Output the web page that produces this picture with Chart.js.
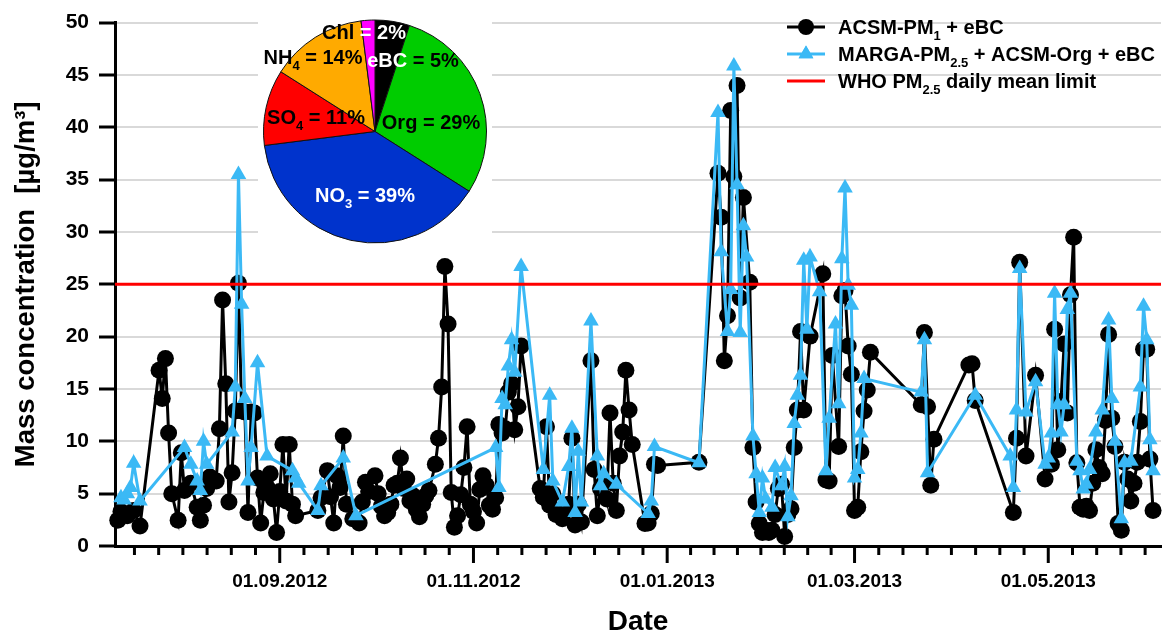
<!DOCTYPE html>
<html><head><meta charset="utf-8">
<script src="https://cdn.jsdelivr.net/npm/chart.js@4.4.1/dist/chart.umd.min.js"></script>
<style>
html,body{margin:0;padding:0;background:#fff;}
#wrap{position:relative;width:1170px;height:641px;overflow:hidden;background:#fff;}
#main{position:absolute;left:0;top:0;}
#pie{position:absolute;left:258px;top:18px;background:#fff;}
</style></head><body>
<div id="wrap"><canvas id="main" width="1170" height="641"></canvas><canvas id="pie" width="234" height="230"></canvas></div>
<script>
// ---------------- DATA ----------------
const acsmDates = [
 '2012-07-12','2012-07-13','2012-07-15','2012-07-17','2012-07-19','2012-07-25','2012-07-26','2012-07-27','2012-07-28','2012-07-29','2012-07-31',
 '2012-08-01','2012-08-02','2012-08-04','2012-08-06','2012-08-07','2012-08-08','2012-08-09','2012-08-10','2012-08-12','2012-08-13','2012-08-14','2012-08-15','2012-08-16','2012-08-17','2012-08-18','2012-08-19',
 '2012-08-20','2012-08-21','2012-08-22','2012-08-23','2012-08-24','2012-08-25','2012-08-26','2012-08-27','2012-08-28','2012-08-29','2012-08-30','2012-08-31',
 '2012-09-01','2012-09-02','2012-09-03','2012-09-04','2012-09-05','2012-09-06','2012-09-13','2012-09-14','2012-09-16','2012-09-17','2012-09-18','2012-09-19','2012-09-20','2012-09-21','2012-09-22','2012-09-24','2012-09-26','2012-09-27','2012-09-28','2012-09-29',
 '2012-10-01','2012-10-02','2012-10-03','2012-10-04','2012-10-05','2012-10-06','2012-10-07','2012-10-08','2012-10-09','2012-10-10','2012-10-11','2012-10-12','2012-10-13','2012-10-14','2012-10-15','2012-10-16',
 '2012-10-17','2012-10-18','2012-10-20','2012-10-21','2012-10-22','2012-10-23','2012-10-24','2012-10-25','2012-10-26','2012-10-27','2012-10-28','2012-10-29','2012-10-30','2012-10-31',
 '2012-11-01','2012-11-02','2012-11-03','2012-11-04','2012-11-05','2012-11-06','2012-11-07','2012-11-08','2012-11-09','2012-11-10','2012-11-11','2012-11-12','2012-11-13','2012-11-14','2012-11-15','2012-11-16',
 '2012-11-22','2012-11-23','2012-11-24','2012-11-25','2012-11-26','2012-11-27','2012-11-29','2012-11-30',
 '2012-12-01','2012-12-02','2012-12-03','2012-12-04','2012-12-05','2012-12-08','2012-12-09','2012-12-10','2012-12-11','2012-12-12','2012-12-13','2012-12-14','2012-12-15','2012-12-16',
 '2012-12-17','2012-12-18','2012-12-19','2012-12-20','2012-12-21','2012-12-25','2012-12-26','2012-12-27','2012-12-28','2012-12-29',
 '2013-01-11','2013-01-17','2013-01-18','2013-01-19','2013-01-20','2013-01-21','2013-01-22','2013-01-23','2013-01-24','2013-01-25','2013-01-27','2013-01-28','2013-01-29','2013-01-30','2013-01-31',
 '2013-02-01','2013-02-02','2013-02-03','2013-02-04','2013-02-05','2013-02-06','2013-02-07','2013-02-08','2013-02-09','2013-02-10','2013-02-11','2013-02-12','2013-02-13','2013-02-15',
 '2013-02-19','2013-02-20','2013-02-21','2013-02-22','2013-02-24','2013-02-25','2013-02-26','2013-02-27','2013-02-28',
 '2013-03-01','2013-03-02','2013-03-03','2013-03-04','2013-03-05','2013-03-06','2013-03-22','2013-03-23','2013-03-24','2013-03-25','2013-03-26',
 '2013-04-06','2013-04-07','2013-04-08','2013-04-20','2013-04-21','2013-04-22','2013-04-24','2013-04-27','2013-04-30',
 '2013-05-02','2013-05-03','2013-05-04','2013-05-05','2013-05-06','2013-05-07','2013-05-08','2013-05-09','2013-05-10','2013-05-11','2013-05-12','2013-05-13','2013-05-14','2013-05-15','2013-05-16',
 '2013-05-17','2013-05-18','2013-05-19','2013-05-20','2013-05-21','2013-05-22','2013-05-23','2013-05-24','2013-05-25','2013-05-26','2013-05-27','2013-05-28','2013-05-29','2013-05-30','2013-05-31',
 '2013-06-01','2013-06-02','2013-06-03'
];
const acsmValues = [
 2.45,3.3,2.9,3.4,1.9,16.8,14.1,17.9,10.8,5.0,2.45,
 8.9,5.3,6.0,3.7,2.45,3.9,5.5,6.6,6.2,11.2,23.5,15.5,4.2,7.0,12.9,25.1,
 12.9,12.8,3.2,12.8,12.7,6.5,2.2,5.1,5.6,6.9,4.5,1.3,
 5.2,9.7,4.3,9.7,4.0,2.9,3.4,4.6,7.2,4.7,2.2,6.7,5.6,10.5,4.0,2.6,2.2,4.2,6.1,5.2,
 6.7,5.0,3.8,2.9,3.2,4.0,5.8,6.0,8.4,5.5,6.4,4.3,4.8,3.5,2.8,4.0,
 4.8,5.3,7.8,10.3,15.2,26.7,21.2,5.1,1.8,2.9,4.9,7.5,11.4,4.0,
 3.3,2.2,5.4,6.7,5.8,3.9,3.5,4.6,11.6,10.8,11.2,14.7,15.5,11.1,13.3,19.1,
 5.5,4.65,11.4,3.9,5.0,3.0,2.6,3.4,
 4.0,10.3,2.0,4.0,2.3,17.7,7.3,2.9,5.5,6.0,4.5,12.7,6.0,3.4,
 8.6,10.9,16.8,13.0,9.7,2.15,2.2,3.1,7.8,7.7,
 8.0,35.6,31.4,17.7,22.0,41.6,35.3,44.0,23.7,33.3,25.2,9.4,4.2,2.15,1.3,
 1.5,1.3,1.5,3.0,5.5,5.9,0.9,3.0,3.55,9.4,13.0,20.5,13.0,20.05,
 26.0,6.3,6.2,18.2,9.5,23.9,24.4,19.1,16.4,
 3.4,3.7,9.0,12.9,14.9,18.5,13.5,20.4,13.3,5.8,10.2,
 17.3,17.4,13.9,3.2,10.3,27.1,8.6,16.3,6.4,
 7.8,20.7,9.2,13.8,19.3,12.7,24.0,29.5,7.95,3.7,3.5,3.8,3.4,6.0,9.2,
 7.5,6.9,12.0,20.2,12.2,9.5,2.15,1.5,8.0,6.4,4.3,6.0,8.0,11.9,18.8,
 18.8,8.3,3.4
];
const margaDates = [
 '2012-07-13','2012-07-14','2012-07-15','2012-07-16','2012-07-17','2012-07-19',
 '2012-08-02','2012-08-04','2012-08-06','2012-08-07','2012-08-08','2012-08-09','2012-08-17','2012-08-18','2012-08-19','2012-08-20','2012-08-21','2012-08-22','2012-08-23','2012-08-25','2012-08-28',
 '2012-09-05','2012-09-06','2012-09-07','2012-09-13','2012-09-14','2012-09-21','2012-09-25',
 '2012-11-08','2012-11-09','2012-11-10','2012-11-11','2012-11-12','2012-11-13','2012-11-14','2012-11-16','2012-11-23','2012-11-25','2012-11-26','2012-11-29',
 '2012-12-01','2012-12-02','2012-12-03','2012-12-04','2012-12-05','2012-12-08','2012-12-10','2012-12-11','2012-12-12','2012-12-16','2012-12-26','2012-12-27','2012-12-28',
 '2013-01-11','2013-01-17','2013-01-18','2013-01-20','2013-01-21','2013-01-22','2013-01-23','2013-01-24','2013-01-25','2013-01-26','2013-01-28','2013-01-29','2013-01-30','2013-01-31',
 '2013-02-01','2013-02-03','2013-02-04','2013-02-06','2013-02-07','2013-02-08','2013-02-09','2013-02-10','2013-02-11','2013-02-12','2013-02-13','2013-02-14','2013-02-15','2013-02-18',
 '2013-02-20','2013-02-21','2013-02-23','2013-02-24','2013-02-25','2013-02-26','2013-02-27','2013-02-28','2013-03-01','2013-03-02','2013-03-03','2013-03-04',
 '2013-03-22','2013-03-23','2013-03-24','2013-04-08','2013-04-19','2013-04-20','2013-04-21','2013-04-22','2013-04-24','2013-04-27','2013-04-30',
 '2013-05-01','2013-05-02','2013-05-03','2013-05-04','2013-05-05','2013-05-06','2013-05-07','2013-05-08','2013-05-10','2013-05-11','2013-05-12','2013-05-13','2013-05-14','2013-05-16',
 '2013-05-18','2013-05-20','2013-05-21','2013-05-22','2013-05-24','2013-05-25','2013-05-27','2013-05-30','2013-05-31','2013-06-01','2013-06-02','2013-06-03'
];
const margaValues = [
 4.6,4.4,5.0,5.6,7.9,4.3,
 9.4,7.8,6.2,5.3,10.0,7.8,10.9,15.2,35.5,23.1,14.1,6.2,9.4,17.5,8.6,
 7.2,6.5,6.0,3.4,5.75,8.4,2.9,
 9.4,5.6,14.1,13.5,17.2,19.7,16.6,26.7,7.3,14.4,6.2,4.2,
 7.6,11.25,3.2,9.05,4.2,21.5,8.6,5.75,6.9,5.9,3.1,4.3,9.5,
 7.95,41.4,28.1,20.5,24.5,45.85,34.5,20.4,30.6,27.6,10.5,6.9,3.2,6.5,
 4.5,3.7,7.5,5.75,7.6,2.8,4.8,11.7,14.4,16.3,27.3,20.7,27.6,24.3,
 7.2,12.2,21.2,13.6,27.45,34.2,24.9,23.0,6.5,7.3,10.8,16.0,
 14.7,19.7,7.0,14.4,8.6,5.6,13.0,26.5,12.8,15.7,7.8,
 8.4,10.8,24.15,13.5,10.9,13.5,22.6,24.15,8.1,7.2,5.45,5.9,7.3,10.9,
 13.0,21.6,14.1,10.0,2.6,7.95,8.1,15.2,22.9,19.7,10.15,7.2
];
const whoLimit = 25;
const xTickDates = ['2012-09-01','2012-11-01','2013-01-01','2013-03-01','2013-05-01'];
const xTickLabels = ['01.09.2012','01.11.2012','01.01.2013','01.03.2013','01.05.2013'];
const axisStart = '2012-07-11T03:00:00Z';
const axisEnd = '2013-06-05T12:00:00Z';
const pieLabels = ['eBC','Org','NO3','SO4','NH4','Chl'];
const pieValues = [5,29,39,11,14,2];

// ---------------- STYLE / LAYOUT ----------------
const pieColors = ['#000000','#00cc00','#0033cc','#ff0000','#ffaa00','#ff00ff'];
const FONT = '"Liberation Sans", Arial, Helvetica, sans-serif';
const BLUE = '#3bb9f5';
const xMin = Date.parse(axisStart), xMax = Date.parse(axisEnd);
const majorT = xTickDates.map(d => Date.parse(d));

function allXTicks(){
  const out = [], n = 8;
  const s0 = (majorT[1]-majorT[0])/n;
  for (let v = majorT[0]-s0; v >= xMin; v -= s0) out.unshift({v, major:false});
  for (let i=0;i<majorT.length-1;i++){
    const st=(majorT[i+1]-majorT[i])/n;
    for (let k=0;k<n;k++) out.push({v:majorT[i]+k*st, major:k===0});
  }
  const L = majorT.length-1;
  out.push({v:majorT[L], major:true});
  const s1 = (majorT[L]-majorT[L-1])/n;
  for (let v = majorT[L]+s1; v <= xMax; v += s1) out.push({v, major:false});
  return out;
}

function drawRich(ctx, parts, x, y, size, align){
  let w = 0;
  const fontOf = p => `bold ${p.sub ? Math.round(size*0.66) : size}px ${FONT}`;
  for (const p of parts){ ctx.font = fontOf(p); w += ctx.measureText(p.t).width; }
  if (align === 'center') x -= w/2;
  ctx.textAlign = 'left'; ctx.textBaseline = 'alphabetic';
  for (const p of parts){
    ctx.font = fontOf(p);
    ctx.fillStyle = p.c || '#000';
    ctx.fillText(p.t, x, y + (p.sub ? size*0.28 : 0));
    x += ctx.measureText(p.t).width;
  }
}

const xTickPlugin = {
  id:'xTickMarks',
  afterDraw(chart){
    const {ctx, scales:{x}, chartArea} = chart;
    ctx.save(); ctx.strokeStyle='#000'; ctx.lineWidth=3;
    for (const t of allXTicks()){
      const px = x.getPixelForValue(t.v);
      ctx.beginPath(); ctx.moveTo(px, chartArea.bottom); ctx.lineTo(px, chartArea.bottom + (t.major ? 17 : 9)); ctx.stroke();
    }
    ctx.restore();
  }
};

const legendPlugin = {
  id:'customLegend',
  afterDraw(chart){
    const ctx = chart.ctx;
    const rows = [
      {y:27, mk:'circle', col:'#000', parts:[{t:'ACSM-PM'},{t:'1',sub:1},{t:' + eBC'}]},
      {y:54, mk:'triangle', col:BLUE, parts:[{t:'MARGA-PM'},{t:'2.5',sub:1},{t:' + ACSM-Org + eBC'}]},
      {y:81, mk:'none', col:'#ff0000', parts:[{t:'WHO PM'},{t:'2.5',sub:1},{t:' daily mean limit'}]}
    ];
    ctx.save();
    for (const r of rows){
      ctx.strokeStyle = r.col; ctx.lineWidth = 3;
      ctx.beginPath(); ctx.moveTo(787, r.y); ctx.lineTo(825, r.y); ctx.stroke();
      ctx.fillStyle = r.col;
      if (r.mk === 'circle'){ ctx.beginPath(); ctx.arc(806, r.y, 8, 0, Math.PI*2); ctx.fill(); }
      if (r.mk === 'triangle'){ Chart.helpers.drawPoint(ctx, {pointStyle:'triangle', radius:8.5, borderWidth:0}, 806, r.y); ctx.fill(); }
      drawRich(ctx, r.parts, 838, r.y + 7, 20, 'left');
    }
    ctx.restore();
  }
};

// main chart
new Chart(document.getElementById('main'), {
  type:'line',
  data:{datasets:[
    {label:'ACSM-PM\u2081 + eBC', data: acsmDates.map((d,i)=>({x:Date.parse(d), y:acsmValues[i]})),
     borderColor:'#000', backgroundColor:'#000', borderWidth:3, pointStyle:'circle', pointRadius:8.5,
     pointBorderWidth:0, pointBackgroundColor:'#000', tension:0, order:3, clip:false},
    {label:'MARGA-PM\u2082.\u2085 + ACSM-Org + eBC', data: margaDates.map((d,i)=>({x:Date.parse(d), y:margaValues[i]})),
     borderColor:BLUE, backgroundColor:BLUE, borderWidth:3, pointStyle:'triangle', pointRadius:9,
     pointBorderWidth:0, pointBackgroundColor:BLUE, tension:0, order:2, clip:false},
    {label:'WHO PM\u2082.\u2085 daily mean limit', data:[{x:xMin,y:whoLimit},{x:xMax,y:whoLimit}],
     borderColor:'#ff0000', borderWidth:3, pointRadius:0, order:1}
  ]},
  options:{
    responsive:false, animation:false, devicePixelRatio:1,
    layout:{padding:{top:16,right:7,left:0,bottom:0}},
    plugins:{legend:{display:false}, tooltip:{enabled:false}},
    scales:{
      x:{type:'linear', min:xMin, max:xMax,
         afterBuildTicks(s){ s.ticks = majorT.map(v=>({value:v})); },
         afterFit(s){ s.height = 95; },
         ticks:{autoSkip:false, maxRotation:0, padding:16, color:'#000', font:{family:FONT,size:19,weight:'bold'},
                callback:(v)=>{ const i = majorT.indexOf(v); return i>=0 ? xTickLabels[i] : ''; }},
         grid:{display:false}, border:{display:true,color:'#000',width:3},
         title:{display:true,text:'Date',color:'#000',font:{family:FONT,size:28,weight:'bold'},padding:{top:0,bottom:2}}},
      y:{min:0, max:50, afterFit(s){ s.width = 115; },
         ticks:{stepSize:5, padding:10, color:'#000', font:{family:FONT,size:21,weight:'bold'}},
         grid:{color:'#d9d9d9', lineWidth:2, tickColor:'#000', tickWidth:3, tickLength:16},
         border:{color:'#000', width:3},
         title:{display:true,text:'Mass concentration  [µg/m³]',color:'#000',font:{family:FONT,size:27.5,weight:'bold'},padding:{top:10,bottom:0}}}
    }
  },
  plugins:[xTickPlugin, legendPlugin]
});

// pie inset
const PIE_OX = 258, PIE_OY = 18;
const pieText = {
  eBC:{pos:[413,60], parts:v=>[{t:'eBC',c:'#fff'},{t:' = '+v+'%'}]},
  Org:{pos:[431,122], parts:v=>[{t:'Org = '+v+'%'}]},
  NO3:{pos:[365,195], parts:v=>[{t:'NO',c:'#fff'},{t:'3',sub:1,c:'#fff'},{t:' = '+v+'%',c:'#fff'}]},
  SO4:{pos:[316,117], parts:v=>[{t:'SO'},{t:'4',sub:1},{t:' = '+v+'%'}]},
  NH4:{pos:[313,57], parts:v=>[{t:'NH'},{t:'4',sub:1},{t:' = '+v+'%'}]},
  Chl:{pos:[364,32], parts:v=>[{t:'Chl '},{t:'= '+v+'%',c:'#fff'}]}
};
const pieLabelPlugin = {
  id:'pieLabels',
  afterDraw(chart){
    const ctx = chart.ctx;
    ctx.save();
    pieLabels.forEach((lab,i)=>{
      const d = pieText[lab];
      drawRich(ctx, d.parts(pieValues[i]), d.pos[0]-PIE_OX, d.pos[1]-PIE_OY+7, 20, 'center');
    });
    ctx.restore();
  }
};
new Chart(document.getElementById('pie'), {
  type:'pie',
  data:{labels:pieLabels, datasets:[{data:pieValues, backgroundColor:pieColors, borderColor:'#111', borderWidth:1}]},
  options:{responsive:false, animation:false, devicePixelRatio:1,
    layout:{padding:{left:5,right:5,top:0,bottom:3}},
    plugins:{legend:{display:false}, tooltip:{enabled:false}}},
  plugins:[pieLabelPlugin]
});
</script>
</body></html>
